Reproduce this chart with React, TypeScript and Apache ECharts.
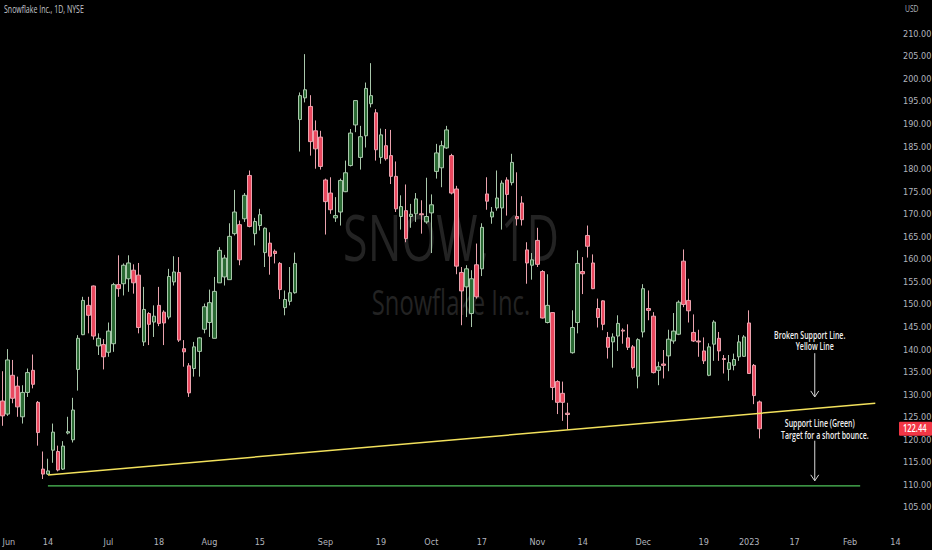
import { useEffect, useRef } from "react";
import * as echarts from "echarts";

// SNOW daily candles, Jun 1 2022 -> Jan 5 2023
const opens = [
  128.6, 125.7, 134.3, 131.9, 125.1, 130.5, 135.4, 128.3, 113.5, 112.4,
  117.7, 117.4, 113.5, 121.5, 120.0, 135.6, 143.3, 149.8, 154.1, 140.8,
  141.1, 139.4, 141.3, 154.4, 154.6, 155.7, 157.6, 156.5, 141.7, 148.0,
  146.1, 149.8, 148.3, 147.2, 155.0, 157.1, 140.2, 136.4, 135.8, 139.6,
  144.5, 146.0, 142.5, 154.8, 156.1, 155.5, 165.7, 167.7, 169.0, 178.6,
  165.7, 167.5, 161.5, 163.6, 161.8, 159.1, 149.3, 150.7, 152.6, 191.0,
  195.8, 193.9, 188.5, 187.1, 177.6, 174.7, 169.2, 170.5, 175.0, 180.8,
  189.8, 182.6, 187.4, 194.5, 192.5, 182.6, 185.2, 183.0, 178.4, 169.5,
  170.8, 169.5, 170.1, 170.1, 168.3, 170.3, 179.5, 180.3, 184.7, 183.0,
  175.6, 157.1, 153.9, 148.0, 158.8, 157.9, 174.5, 169.4, 171.4, 171.4,
  177.6, 177.0, 169.5, 172.5, 162.1, 158.7, 164.2, 157.3, 146.0, 148.2,
  132.9, 130.3, 125.9, 139.3, 146.0, 157.3, 165.3, 159.2, 149.1, 150.8,
  142.7, 141.7, 143.0, 144.3, 142.6, 140.6, 134.1, 143.9, 149.1, 147.4,
  135.4, 136.8, 138.6, 141.9, 143.4, 159.6, 150.9, 143.8, 141.9, 139.7,
  134.3, 141.2, 142.5, 138.0, 135.6, 136.5, 138.4, 138.5, 145.9, 136.5,
  128.4,
];
const closes = [
  125.3, 137.7, 129.2, 127.3, 130.5, 134.9, 132.3, 121.6, 112.4, 113.1,
  121.7, 113.3, 118.6, 121.8, 126.6, 142.5, 150.9, 147.6, 143.0, 142.5,
  138.4, 144.1, 154.4, 153.5, 158.7, 159.2, 154.8, 144.9, 148.9, 145.6,
  147.4, 145.8, 145.9, 156.2, 157.2, 142.1, 139.5, 130.4, 140.6, 142.6,
  149.5, 150.4, 152.9, 162.0, 160.3, 165.1, 170.5, 159.9, 174.2, 167.3,
  168.4, 169.9, 166.9, 160.7, 161.3, 153.3, 151.1, 152.6, 159.1, 196.3,
  197.6, 186.1, 184.5, 180.6, 172.8, 171.0, 169.7, 177.5, 179.2, 188.0,
  195.2, 187.2, 197.9, 196.3, 184.3, 187.6, 182.3, 178.4, 171.2, 171.7,
  164.6, 170.0, 173.4, 169.9, 169.5, 172.1, 183.6, 185.2, 188.7, 174.7,
  158.5, 153.0, 157.9, 155.7, 151.7, 167.1, 172.9, 170.5, 173.6, 176.9,
  174.4, 181.5, 169.0, 168.8, 159.2, 159.9, 158.9, 147.0, 149.8, 131.6,
  128.3, 128.3, 125.6, 144.9, 159.1, 156.8, 162.9, 153.5, 147.1, 145.6,
  140.5, 142.8, 145.8, 144.1, 140.5, 136.0, 142.2, 153.5, 148.7, 134.9,
  136.2, 136.5, 142.3, 144.1, 150.5, 150.0, 148.6, 141.9, 141.7, 137.5,
  140.6, 146.1, 139.7, 137.8, 137.1, 137.8, 141.7, 142.8, 134.7, 129.8,
  122.44,
];
const lows = [
  123.1, 125.3, 128.1, 125.1, 123.6, 129.5, 131.4, 118.7, 111.3, 112.2,
  114.9, 113.0, 113.3, 121.2, 119.4, 130.9, 143.2, 143.6, 142.2, 138.8,
  135.6, 138.4, 139.5, 151.7, 152.0, 152.8, 152.4, 143.6, 140.8, 141.0,
  142.8, 145.2, 141.0, 146.7, 154.2, 141.7, 136.2, 129.5, 134.0, 134.0,
  143.6, 142.8, 142.5, 154.8, 154.2, 155.5, 165.3, 158.7, 168.3, 167.1,
  163.1, 166.4, 158.3, 156.6, 159.1, 151.2, 147.6, 149.8, 152.4, 183.9,
  194.8, 183.0, 180.1, 179.9, 165.5, 170.1, 168.3, 167.5, 174.9, 180.6,
  188.2, 179.9, 184.8, 193.7, 181.9, 181.2, 181.9, 176.7, 170.5, 166.6,
  163.8, 167.0, 168.3, 165.7, 167.9, 161.4, 177.9, 176.0, 184.5, 174.4,
  156.7, 145.4, 147.2, 145.0, 151.3, 156.3, 171.0, 167.9, 170.8, 166.6,
  169.7, 176.4, 167.5, 167.5, 154.6, 155.5, 158.3, 146.9, 145.8, 128.8,
  125.7, 124.2, 122.3, 139.1, 143.6, 152.3, 160.4, 153.4, 144.9, 144.3,
  138.0, 136.0, 139.7, 141.3, 139.9, 135.6, 131.4, 142.7, 146.5, 134.7,
  132.1, 133.6, 135.2, 141.3, 143.2, 149.4, 146.0, 141.7, 138.4, 136.8,
  134.1, 137.5, 137.5, 134.7, 133.1, 135.4, 137.5, 138.4, 134.6, 127.9,
  120.3,
];
const highs = [
  135.2, 140.1, 137.7, 134.0, 132.1, 135.8, 138.9, 128.6, 117.4, 115.8,
  123.6, 118.7, 119.7, 125.1, 129.3, 143.2, 151.7, 151.7, 154.2, 143.6,
  142.3, 146.0, 154.8, 160.9, 159.1, 160.9, 158.9, 159.2, 153.9, 148.3,
  149.8, 153.9, 148.7, 157.9, 160.7, 160.5, 142.1, 137.0, 141.7, 142.8,
  150.2, 153.3, 156.1, 162.7, 161.0, 168.0, 175.4, 168.6, 174.7, 179.7,
  169.2, 171.2, 167.1, 166.0, 162.2, 159.4, 153.1, 158.3, 161.5, 197.0,
  205.5, 196.4, 190.8, 188.5, 177.9, 178.2, 173.8, 177.9, 181.9, 188.9,
  195.2, 189.6, 199.2, 203.5, 193.3, 189.0, 188.9, 188.7, 181.7, 174.2,
  176.6, 172.3, 174.7, 173.1, 178.1, 174.4, 185.6, 186.3, 189.6, 183.4,
  176.3, 158.3, 158.7, 157.6, 163.5, 168.0, 178.2, 171.6, 179.7, 177.5,
  178.2, 183.4, 179.3, 174.0, 163.8, 161.4, 167.0, 157.6, 156.7, 148.3,
  133.2, 132.9, 128.2, 148.7, 162.0, 160.5, 167.5, 161.1, 151.3, 150.9,
  143.9, 143.6, 147.6, 144.7, 145.6, 141.0, 142.5, 154.5, 153.1, 148.3,
  137.3, 139.9, 144.4, 148.1, 150.9, 162.2, 155.7, 147.8, 144.4, 142.7,
  141.4, 146.5, 143.9, 138.8, 138.8, 139.1, 143.2, 143.2, 148.7, 136.8,
  128.7,
];

// x-axis tick labels (trading date -> shown text)
const tickDates = [
  "2022-06-01", "2022-06-14", "2022-07-01", "2022-07-18", "2022-08-01", "2022-08-15",
  "2022-09-01", "2022-09-19", "2022-10-03", "2022-10-17", "2022-11-01", "2022-11-14",
  "2022-12-01", "2022-12-19", "2023-01-03", "2023-01-17", "2023-02-01", "2023-02-14",
];
const tickTexts = [
  "Jun", "14", "Jul", "18", "Aug", "15", "Sep", "19", "Oct", "17", "Nov", "14",
  "Dec", "19", "2023", "17", "Feb", "14",
];

const holidays = ["2022-06-20", "2022-07-04", "2022-09-05", "2022-11-24", "2022-12-26", "2023-01-02", "2023-01-16"];
const slotCount = 178;

// drawn trend lines: [index, price] endpoints
const yellowLine = [[9, 112.2], [173, 128.1]];
const greenLine = [[9, 109.8], [170, 109.8]];

// annotations
const arrowIdx = [161, 161];
const arrowFrom = [139.2, 119.8];
const arrowTo = [129.5, 110.9];
const noteTexts = ["Broken Support Line.", "Yellow Line", "Support Line (Green)", "Target for a short bounce."];
const noteIdx = [160.1, 160.5, 162.4, 163.2];
const notePrice = [143.2, 140.7, 123.5, 121.0];

const makeDays = () => {
  const out: string[] = [];
  const d = new Date(Date.UTC(2022, 5, 1));
  while (out.length < slotCount) {
    const s = d.toISOString().slice(0, 10);
    const wd = d.getUTCDay();
    if (wd !== 0 && wd !== 6 && !holidays.includes(s)) out.push(s);
    d.setUTCDate(d.getUTCDate() + 1);
  }
  return out;
};

const NARROW = "'Liberation Sans Narrow', 'DejaVu Sans Condensed', 'Open Sans', sans-serif";

const App = () => {
  const chartRef = useRef<HTMLDivElement>(null);

  useEffect(() => {
    document.body.style.margin = "0";
    document.body.style.background = "#000";
    if (!chartRef.current) return;
    const chart = echarts.init(chartRef.current, null, { renderer: "svg" });
    const days = makeDays();
    const candles = opens.map((o, i) => [o, closes[i], lows[i], highs[i]]);

    chart.setOption({
      animation: false,
      backgroundColor: "#000000",
      grid: { left: 0, right: 34, top: 0, bottom: 20, outerBoundsMode: "none", containLabel: false },
      xAxis: {
        type: "category",
        data: days,
        boundaryGap: true,
        axisLine: { show: false },
        axisTick: { show: false },
        splitLine: { show: false },
        axisLabel: {
          color: "#b2b5be",
          fontSize: 9,
          fontFamily: NARROW,
          margin: 7,
          alignMinLabel: "left",
          interval: (_i: number, v: string) => tickDates.includes(v),
          formatter: (v: string) => {
            const k = tickDates.indexOf(v);
            return k >= 0 ? tickTexts[k] : "";
          },
        },
      },
      yAxis: {
        type: "value",
        position: "right",
        min: 100,
        max: 217.5,
        interval: 5,
        axisLine: { show: false },
        axisTick: { show: false },
        splitLine: { show: false },
        axisLabel: {
          color: "#b2b5be",
          fontSize: 9,
          fontFamily: NARROW,
          margin: 5,
          showMinLabel: false,
          showMaxLabel: false,
          formatter: (v: number) => (v >= 105 && v <= 210 && v % 5 === 0 ? v.toFixed(2) : ""),
        },
      },
      series: [
        {
          type: "line",
          data: greenLine,
          symbol: "none",
          lineStyle: { color: "#4fc35a", width: 1.2 },
          z: 1,
        },
        {
          type: "candlestick",
          data: candles,
          barWidth: 4,
          z: 3,
          itemStyle: {
            color: "#2b6a34",
            color0: "#e9485e",
            borderColor: "#a9c7ab",
            borderColor0: "#eaa3ae",
            borderWidth: 1,
          },
        },
        {
          type: "line",
          data: yellowLine,
          symbol: "none",
          lineStyle: { color: "#f2e15c", width: 1.5 },
          z: 4,
        },
      ],
    });

    const px = (i: number, v: number) => chart.convertToPixel({ gridIndex: 0 }, [i, v]) as number[];
    const graphics: any[] = [
      {
        type: "text",
        x: 451,
        y: 236,
        scaleX: 0.7,
        z: 0,
        style: { text: "SNOW, 1D", font: "64px 'Open Sans', sans-serif", fill: "#232323", align: "center", verticalAlign: "middle" },
      },
      {
        type: "text",
        x: 451,
        y: 302,
        scaleX: 0.7,
        z: 0,
        style: { text: "Snowflake Inc.", font: "34px 'Open Sans', sans-serif", fill: "#232323", align: "center", verticalAlign: "middle" },
      },
      {
        type: "text",
        x: 4,
        y: 10,
        scaleX: 0.7,
        style: { text: "Snowflake Inc., 1D, NYSE", font: "10px 'Open Sans', sans-serif", fill: "#c3c6cc", align: "left", verticalAlign: "middle" },
      },
      {
        type: "text",
        x: 905,
        y: 9,
        scaleX: 0.75,
        style: { text: "USD", font: "9px 'Open Sans', sans-serif", fill: "#b2b5be", align: "left", verticalAlign: "middle" },
      },
    ];

    arrowIdx.forEach((idx, k) => {
      const a = px(idx, arrowFrom[k]);
      const b = px(idx, arrowTo[k]);
      graphics.push({
        type: "line",
        shape: { x1: a[0], y1: a[1], x2: b[0], y2: b[1] },
        style: { stroke: "#d8d8d8", lineWidth: 1 },
        z: 10,
      });
      graphics.push({
        type: "polyline",
        shape: { points: [[b[0] - 4, b[1] - 6], [b[0], b[1]], [b[0] + 4, b[1] - 6]] },
        style: { stroke: "#d8d8d8", lineWidth: 1, fill: "none" },
        z: 10,
      });
    });

    noteTexts.forEach((t, k) => {
      const p = px(noteIdx[k], notePrice[k]);
      graphics.push({
        type: "text",
        x: p[0],
        y: p[1],
        scaleX: 0.7,
        z: 10,
        style: { text: t, font: "600 10px 'Open Sans', sans-serif", fill: "#f0f0f0", align: "center", verticalAlign: "middle" },
      });
    });

    const last = closes[closes.length - 1];
    const lp = px(0, last);
    graphics.push({
      type: "rect",
      shape: { x: 899, y: lp[1] - 7, width: 33, height: 14, r: 1 },
      style: { fill: "#f23645" },
      z: 10,
    });
    graphics.push({
      type: "text",
      x: 903,
      y: lp[1],
      scaleX: 0.75,
      z: 11,
      style: { text: last.toFixed(2), font: "600 10px 'Open Sans', sans-serif", fill: "#ffffff", align: "left", verticalAlign: "middle" },
    });

    chart.setOption({ graphic: { elements: graphics } });

    return () => {
      chart.dispose();
    };
  }, []);

  return <div ref={chartRef} style={{ width: "932px", height: "550px" }}></div>;
};

export default App;
